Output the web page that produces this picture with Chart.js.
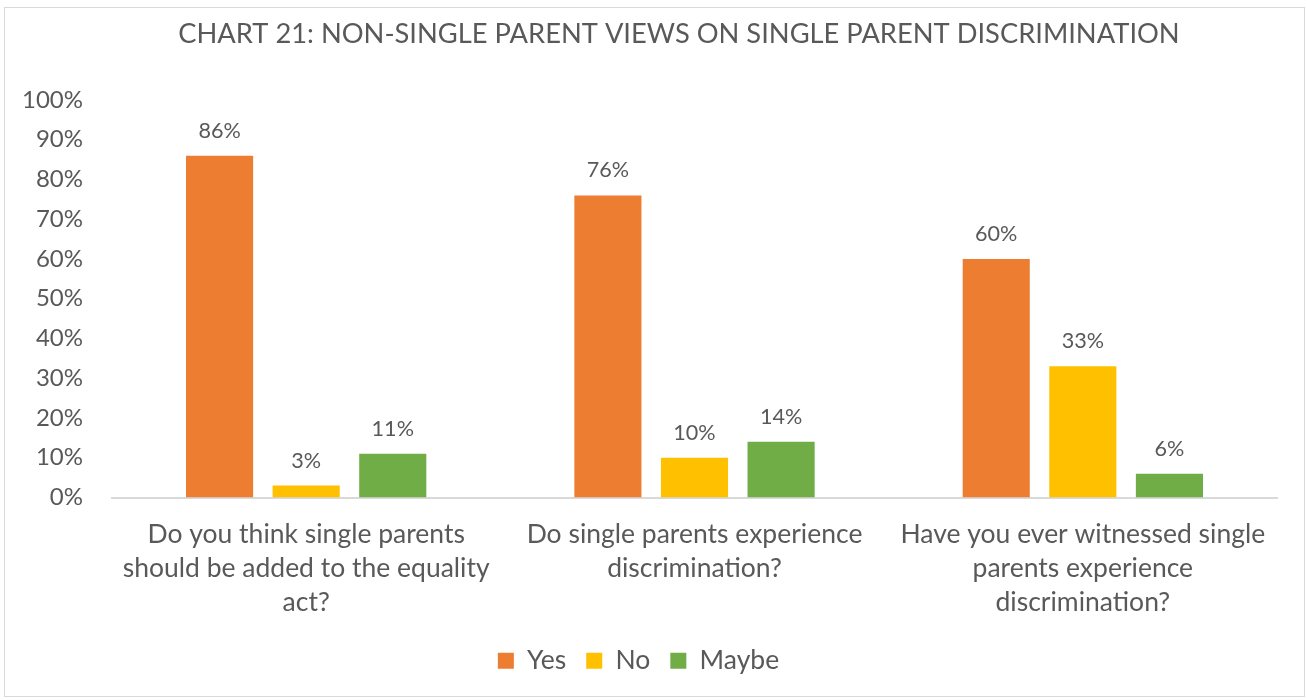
<!DOCTYPE html>
<html>
<head>
<meta charset="utf-8">
<script src="https://cdn.jsdelivr.net/npm/chart.js@4.4.1/dist/chart.umd.min.js"></script>
<style>
  html, body { margin: 0; padding: 0; background: #ffffff; }
  #wrap { width: 1307px; height: 700px; position: relative; }
</style>
</head>
<body>
<div id="wrap"><canvas id="chart" width="1307" height="700"></canvas></div>
<script>
// Survey questions (wrapped into lines as shown under the axis)
const categories = [
  ["Do you think single parents", "should be added to the equality", "act?"],
  ["Do single parents experience", "discrimination?"],
  ["Have you ever witnessed single", "parents experience", "discrimination?"]
];
const seriesNames = ["Yes", "No", "Maybe"];
const yesValues = [86, 76, 60];
const noValues = [3, 10, 33];
const maybeValues = [11, 14, 6];
const yTicks = [0, 10, 20, 30, 40, 50, 60, 70, 80, 90, 100];
const chartTitle = "CHART 21: NON-SINGLE PARENT VIEWS ON SINGLE PARENT DISCRIMINATION";

const FONT = "Lato";
const TEXT = "#595959";
const colors = ["#ED7D31", "#FFC000", "#70AD47"];

// Frame, background and title
const framePlugin = {
  id: "frame",
  beforeDraw(chart) {
    const ctx = chart.ctx;
    ctx.save();
    ctx.fillStyle = "#ffffff";
    ctx.fillRect(0, 0, chart.width, chart.height);
    ctx.strokeStyle = "#d9d9d9";
    ctx.lineWidth = 1;
    ctx.strokeRect(4.5, 7.5, 1300, 689);
    ctx.restore();
  },
  afterDraw(chart) {
    const ctx = chart.ctx;
    ctx.save();
    ctx.fillStyle = TEXT;
    ctx.font = "27.3px " + FONT;
    ctx.textAlign = "center";
    ctx.textBaseline = "alphabetic";
    ctx.fillText(chartTitle, 679, 43);
    ctx.restore();
  }
};

// Percentage labels above each bar
const valueLabels = {
  id: "valueLabels",
  afterDatasetsDraw(chart) {
    const ctx = chart.ctx;
    ctx.save();
    ctx.fillStyle = TEXT;
    ctx.font = "21.6px " + FONT;
    ctx.textAlign = "center";
    ctx.textBaseline = "middle";
    chart.data.datasets.forEach((ds, i) => {
      const meta = chart.getDatasetMeta(i);
      meta.data.forEach((bar, j) => {
        ctx.fillText(ds.data[j] + "%", bar.x, bar.y - 25);
      });
    });
    ctx.restore();
  }
};

const seriesData = [yesValues, noValues, maybeValues];

new Chart(document.getElementById("chart"), {
  type: "bar",
  data: {
    labels: categories,
    datasets: seriesNames.map((name, i) => ({
      label: name,
      data: seriesData[i],
      backgroundColor: colors[i],
      borderWidth: 0,
      categoryPercentage: 0.669,
      barPercentage: 0.775
    }))
  },
  options: {
    responsive: false,
    animation: false,
    layout: { padding: { top: 100, right: 30, left: 0, bottom: 16 } },
    plugins: {
      title: { display: false },
      tooltip: { enabled: false },
      legend: {
        position: "bottom",
        labels: {
          color: TEXT,
          font: { family: FONT, size: 26.5 },
          boxWidth: 16,
          boxHeight: 16,
          padding: 20
        }
      }
    },
    scales: {
      x: {
        grid: { display: false, drawTicks: false },
        border: { display: true, color: "#d9d9d9", width: 2 },
        ticks: {
          color: TEXT,
          font: { family: FONT, size: 26.5, lineHeight: 34 / 26.5 },
          padding: 20,
          maxRotation: 0,
          autoSkip: false
        },
        afterFit(scale) { scale.height = 130; }
      },
      y: {
        min: 0,
        max: 100,
        afterBuildTicks(scale) { scale.ticks = yTicks.map(v => ({ value: v })); },
        grid: { display: false, drawTicks: false },
        border: { display: false },
        ticks: {
          color: TEXT,
          font: { family: FONT, size: 24 },
          padding: 29,
          callback: v => v + "%"
        },
        afterFit(scale) { scale.width = 112; }
      }
    }
  },
  plugins: [framePlugin, valueLabels]
});
</script>
</body>
</html>
